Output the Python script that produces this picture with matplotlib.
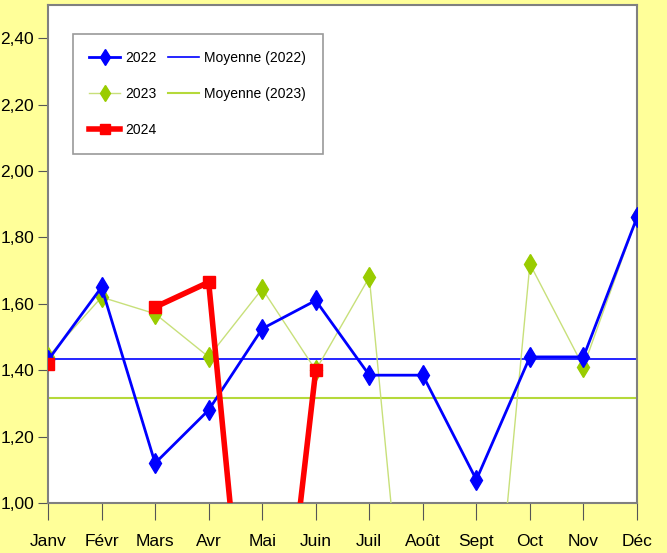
import numpy as np
import matplotlib.pyplot as plt
from matplotlib.ticker import FuncFormatter

plt.rcParams['font.family'] = ['Liberation Sans', 'DejaVu Sans']

months = ['Janv', 'Févr', 'Mars', 'Avr', 'Mai', 'Juin', 'Juil', 'Août', 'Sept', 'Oct', 'Nov', 'Déc']
v2022 = [1.43, 1.65, 1.12, 1.28, 1.525, 1.61, 1.385, 1.385, 1.07, 1.44, 1.44, 1.86]
v2023 = [1.44, 1.62, 1.57, 1.44, 1.645, 1.40, 1.68, 0.0, 0.0, 1.72, 1.41, 1.86]
v2024 = [1.42, np.nan, 1.59, 1.665, 0.0, 1.40]

mean2022 = np.mean(v2022)
mean2023 = np.mean(v2023)

fig = plt.figure(figsize=(6.67, 5.53), dpi=100, facecolor='#FFFF99')
ax = fig.add_axes([0.072, 0.0904, 0.883, 0.9006])
ax.set_facecolor('white')

x = np.arange(len(months))

ax.plot(x, v2023, color='#C8E07A', lw=1.0, marker='d', ms=10,
        mfc='#99CC00', mec='#99CC00', label='2023', zorder=3)
ax.plot(x, v2022, color='#0000FF', lw=2.0, marker='d', ms=10,
        mfc='#0000FF', mec='#0000FF', label='2022', zorder=4)
ax.plot(x[:len(v2024)], v2024, color='#FF0000', lw=4.0, marker='s', ms=9,
        mfc='#FF0000', mec='#FF0000', label='2024', zorder=5)
ax.axhline(mean2022, color='#0000FF', lw=1.2, label='Moyenne (2022)', zorder=2)
ax.axhline(mean2023, color='#B5D93A', lw=1.5, label='Moyenne (2023)', zorder=2)

ax.set_xlim(0, len(months) - 1)
ax.set_ylim(1.0, 2.5)
ax.set_yticks(np.arange(1.0, 2.41, 0.2))
ax.yaxis.set_major_formatter(FuncFormatter(lambda v, p: f'{v:.2f}'.replace('.', ',')))
ax.set_xticks(x)
ax.set_xticklabels(months)
ax.tick_params(axis='both', direction='out', color='#555555', labelsize=12.5)
ax.tick_params(axis='x', length=12, pad=10)
ax.tick_params(axis='y', length=7, pad=3)

for s in ax.spines.values():
    s.set_color('#808080')
    s.set_linewidth(1.5)

h, l = ax.get_legend_handles_labels()
order = [l.index(n) for n in ['2022', '2023', '2024', 'Moyenne (2022)', 'Moyenne (2023)']]
leg = ax.legend([h[i] for i in order], [l[i] for i in order], ncol=2,
                loc='upper left', bbox_to_anchor=(0.042, 0.942), borderaxespad=0,
                fontsize=10, frameon=True, fancybox=False, edgecolor='#808080',
                handlelength=2.2, handletextpad=0.4, labelspacing=1.6,
                columnspacing=0.8, borderpad=1.2, markerscale=0.8)
leg.get_frame().set_linewidth(1.2)

fig.savefig('out.png', dpi=100, facecolor=fig.get_facecolor())
